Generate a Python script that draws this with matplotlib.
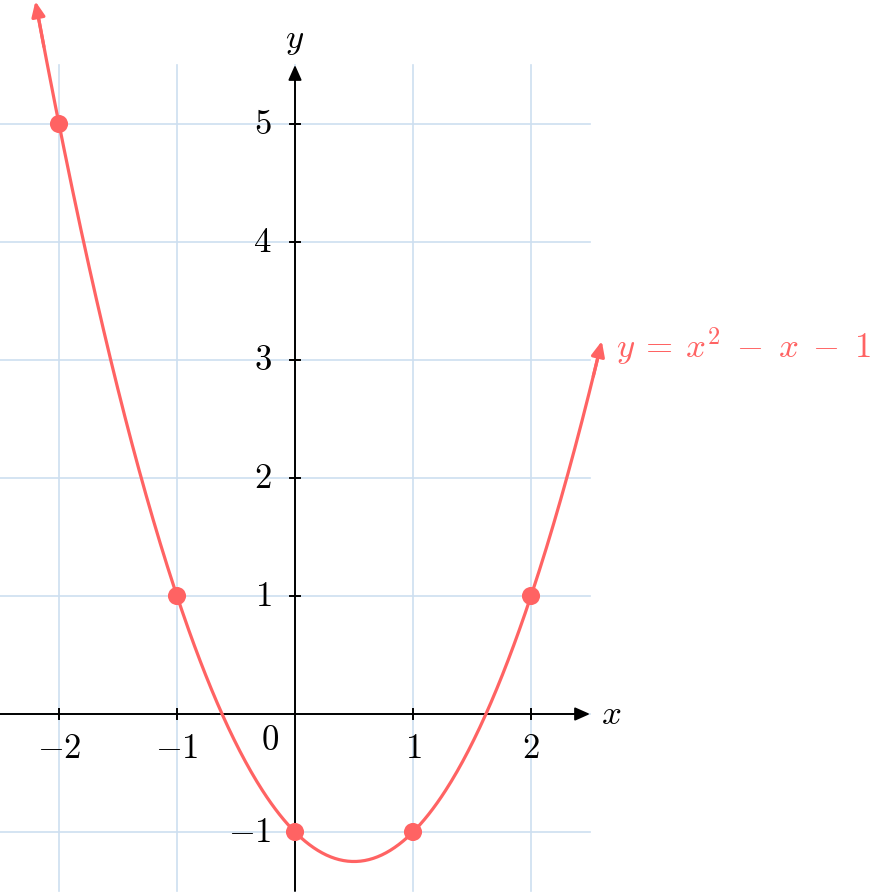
import numpy as np
import matplotlib.pyplot as plt

plt.rcParams['mathtext.fontset'] = 'cm'
plt.rcParams['font.family'] = 'serif'
plt.rcParams['font.serif'] = ['DejaVu Serif']

# data
x_ticks = [-2, -1, 1, 2]
y_ticks = [-1, 1, 2, 3, 4, 5]
grid_x = [-2, -1, 0, 1, 2]
grid_y = [-1, 0, 1, 2, 3, 4, 5]
pts_x = [-2, -1, 0, 1, 2]
pts_y = [5, 1, -1, -1, 1]
domain = (-2.2, 2.6)

red = '#ff6363'
gridc = '#cddff0'
head = '-|>,head_length=0.9,head_width=0.4'


def f(x):
    return x**2 - x - 1


def main():
    fig = plt.figure(figsize=(8.81, 8.92), dpi=100)
    ax = fig.add_axes([0, 0, 1, 1])
    ax.set_xlim(-2.5, 586 / 118)
    ax.set_ylim(-178 / 118, 714 / 118)
    ax.set_aspect('equal')
    ax.axis('off')

    # grid
    for gx in grid_x:
        ax.plot([gx, gx], [-1.5, 5.5], color=gridc, lw=1.2, zorder=1)
    for gy in grid_y:
        ax.plot([-2.5, 2.5], [gy, gy], color=gridc, lw=1.2, zorder=1)

    # axes with arrows
    ax.annotate('', xy=(2.5, 0), xytext=(-2.5, 0),
                arrowprops=dict(arrowstyle=head, color='black', lw=1.4,
                                shrinkA=0, shrinkB=0), zorder=3)
    ax.annotate('', xy=(0, 5.5), xytext=(0, -1.5),
                arrowprops=dict(arrowstyle=head, color='black', lw=1.4,
                                shrinkA=0, shrinkB=0), zorder=3)
    ax.text(2.68, 0.0, '$x$', fontsize=25, ha='center', va='center')
    ax.text(0, 5.71, '$y$', fontsize=25, ha='center', va='center')

    # ticks
    t = 0.04
    for tx in x_ticks:
        ax.plot([tx, tx], [-t, t], color='black', lw=1.4, zorder=3)
        ax.text(tx, -0.29, '$%d$' % tx, fontsize=25, ha='center', va='center')
    for ty in y_ticks:
        ax.plot([-t, t], [ty, ty], color='black', lw=1.4, zorder=3)
        ax.text(-0.2, ty, '$%d$' % ty, fontsize=25, ha='right', va='center')
    ax.text(-0.21, -0.22, '$0$', fontsize=25, ha='center', va='center')

    # curve
    xs = np.linspace(domain[0], domain[1], 400)
    ys = f(xs)
    ax.plot(xs[2:-2], ys[2:-2], color=red, lw=2.3, zorder=4, solid_capstyle='butt')
    for i0, i1 in [(6, 0), (-7, -1)]:
        ax.annotate('', xy=(xs[i1], ys[i1]), xytext=(xs[i0], ys[i0]),
                    arrowprops=dict(arrowstyle=head, color=red, lw=2.3,
                                    shrinkA=0, shrinkB=0), zorder=4)
    ax.scatter(pts_x, pts_y, s=170, color=red, zorder=5, edgecolors='none')
    ax.text(2.72, 3.12, r'$y\:=\:x^2\;-\;x\;-\;1$', color=red, fontsize=25,
            ha='left', va='center')

    fig.savefig('out.png', dpi=100)


if __name__ == '__main__':
    main()
